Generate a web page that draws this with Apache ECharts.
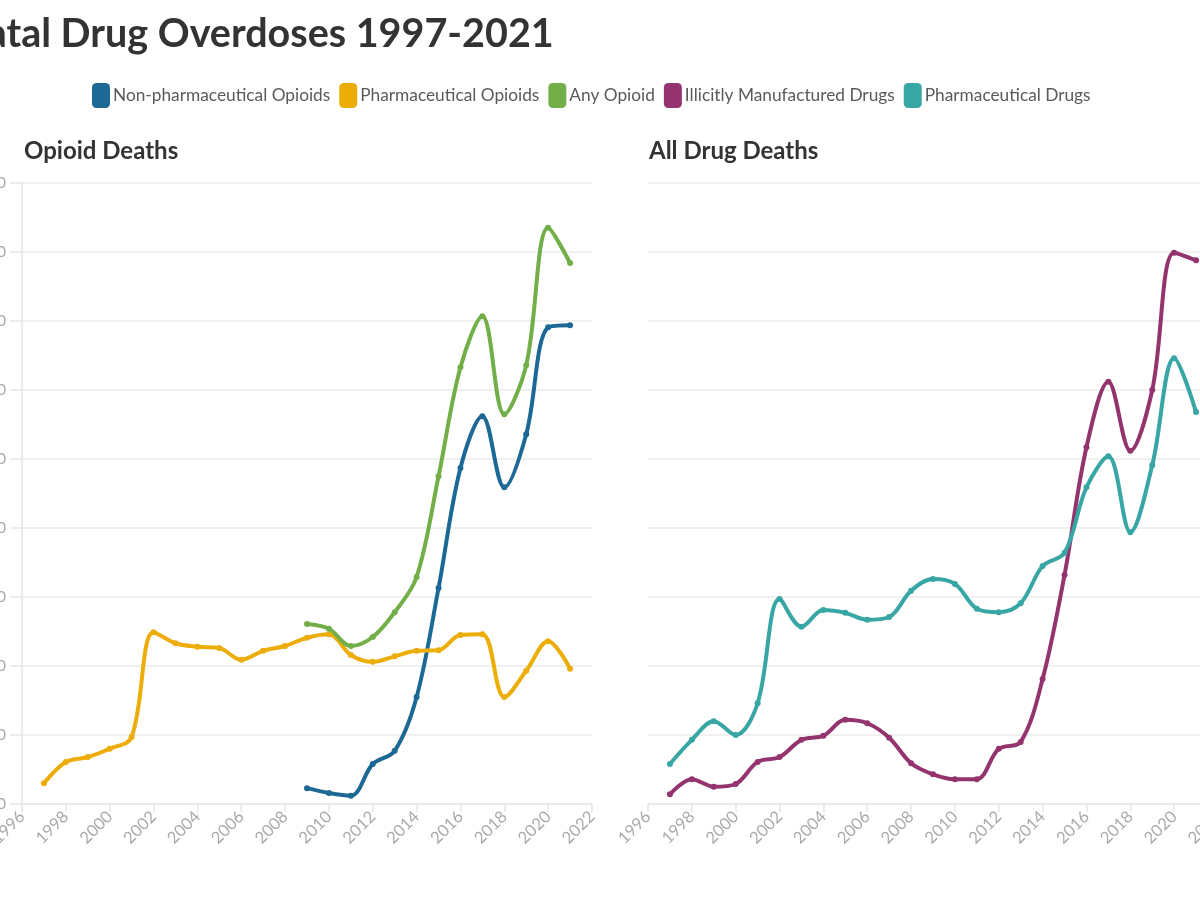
<!DOCTYPE html>
<html>
<head>
<meta charset="utf-8">
<script src="https://cdn.jsdelivr.net/npm/echarts@6/dist/echarts.min.js"></script>
<style>
html,body{margin:0;padding:0;background:#fff;overflow:hidden;width:1200px;height:900px;}
#chart{position:absolute;left:-40px;top:0;width:1280px;height:900px;}
</style>
</head>
<body>
<div id="chart"></div>
<script>
// ---- data ----
const titleText = "Fatal Drug Overdoses 1997-2021";
const leftTitle = "Opioid Deaths";
const rightTitle = "All Drug Deaths";
const years = [1997,1998,1999,2000,2001,2002,2003,2004,2005,2006,2007,2008,2009,2010,2011,2012,2013,2014,2015,2016,2017,2018,2019,2020,2021];
const opioidYears = [2009,2010,2011,2012,2013,2014,2015,2016,2017,2018,2019,2020,2021];
const nonPharmOpioids = [23,16,12,58,77,155,313,487,562,459,536,691,694];
const pharmOpioids = [30,61,68,80,97,249,233,228,226,209,222,229,241,246,216,206,214,222,223,245,246,155,193,236,196];
const anyOpioid = [261,254,229,242,278,329,475,633,707,565,636,835,784];
const illicitDrugs = [14,36,25,29,61,68,93,99,122,117,96,59,43,36,36,80,90,181,332,517,612,512,600,799,788];
const pharmDrugs = [58,93,120,100,146,297,257,281,277,267,271,309,326,319,283,278,291,345,364,459,504,394,491,646,568];
const seriesNames = ["Non-pharmaceutical Opioids","Pharmaceutical Opioids","Any Opioid","Illicitly Manufactured Drugs","Pharmaceutical Drugs"];
const colors = ["#1D6996","#EDAD08","#73AF48","#94346E","#38A6A5"];

const FONT = "Lato, 'Noto Sans', sans-serif";
const pair = (xs, ys) => xs.map((x, i) => [x, ys[i]]);

function xAxis(idx){
  return {
    gridIndex: idx, type: 'value', min: 1996, max: 2022, interval: 2,
    axisLine: {show: true, lineStyle: {color: '#e6e6e6', width: 1.5}},
    axisTick: {show: true, length: 8, lineStyle: {color: '#e6e6e6', width: 1.5}},
    splitLine: {show: false},
    axisLabel: {rotate: 45, color: '#aaaaaa', fontSize: 16.5, fontFamily: FONT, margin: 10,
      formatter: v => String(v)}
  };
}
function yAxis(idx, showLabels, showLine){
  return {
    gridIndex: idx, type: 'value', min: 0, max: 900, interval: 100,
    axisLine: {show: showLine, lineStyle: {color: '#e6e6e6', width: 1.5}},
    axisTick: {show: showLine, length: 12, lineStyle: {color: '#e6e6e6', width: 1.5}},
    splitLine: {show: true, lineStyle: {color: '#ebebeb', width: 1.5}},
    axisLabel: {show: showLabels, color: '#aaaaaa', fontSize: 16, fontFamily: FONT, margin: 16}
  };
}
function line(name, data, color, xi){
  return {
    name, type: 'line', xAxisIndex: xi, yAxisIndex: xi, data,
    smooth: 0.35, symbol: 'circle', symbolSize: 6, showSymbol: true,
    lineStyle: {width: 4, color}, itemStyle: {color},
    emphasis: {disabled: true}
  };
}

const chart = echarts.init(document.getElementById('chart'), null, {renderer: 'canvas'});
chart.setOption({
  animation: false,
  color: colors,
  title: [
    {text: titleText, left: 7, top: 14, padding: 0, textStyle: {fontFamily: FONT, fontSize: 39.5, fontWeight: 'bold', color: '#333333'}},
    {text: leftTitle, left: 64, top: 139, padding: 0, textStyle: {fontFamily: FONT, fontSize: 24, fontWeight: 'bold', color: '#333333'}},
    {text: rightTitle, left: 689, top: 139, padding: 0, textStyle: {fontFamily: FONT, fontSize: 24, fontWeight: 'bold', color: '#333333'}}
  ],
  legend: {
    data: seriesNames, left: 132, top: 83, padding: 0, icon: 'roundRect',
    itemWidth: 18, itemHeight: 25, itemGap: 9,
    textStyle: {fontFamily: FONT, fontSize: 17.3, color: '#5a5a5a', padding: [0,0,0,-2]}
  },
  grid: [
    {left: 62, top: 183, width: 570, height: 621},
    {left: 688, top: 183, width: 570, height: 621}
  ],
  xAxis: [xAxis(0), xAxis(1)],
  yAxis: [yAxis(0, true, true), yAxis(1, false, false)],
  series: [
    line(seriesNames[0], pair(opioidYears, nonPharmOpioids), colors[0], 0),
    line(seriesNames[1], pair(years, pharmOpioids), colors[1], 0),
    line(seriesNames[2], pair(opioidYears, anyOpioid), colors[2], 0),
    line(seriesNames[3], pair(years, illicitDrugs), colors[3], 1),
    line(seriesNames[4], pair(years, pharmDrugs), colors[4], 1)
  ]
});
</script>
</body>
</html>
